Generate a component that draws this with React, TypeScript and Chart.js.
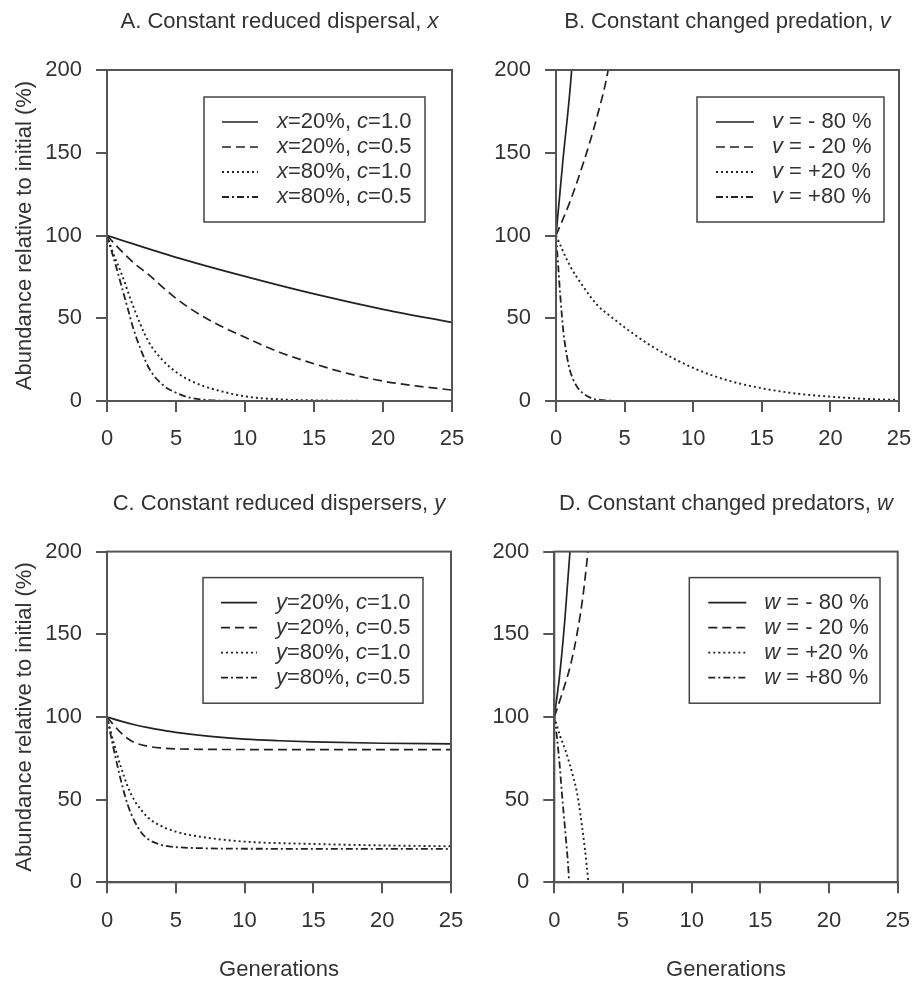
import React, { useEffect, useRef } from 'react';
import { Chart, registerables } from 'chart.js';

Chart.register(...registerables);

// ---------- tick labels ----------
const xTicks = [0, 5, 10, 15, 20, 25];
const yTicks = [0, 50, 100, 150, 200];
const yAxisTitle = 'Abundance relative to initial (%)';
const xAxisTitle = 'Generations';

// ---------- panel titles & legend labels (*...* = italic) ----------
const panelTitles = [
  'A. Constant reduced dispersal, *x*',
  'B. Constant changed predation, *v*',
  'C. Constant reduced dispersers, *y*',
  'D. Constant changed predators, *w*',
];
const legendA = ['*x*=20%, *c*=1.0', '*x*=20%, *c*=0.5', '*x*=80%, *c*=1.0', '*x*=80%, *c*=0.5'];
const legendB = ['*v* = - 80 %', '*v* = - 20 %', '*v* = +20 %', '*v* = +80 %'];
const legendC = ['*y*=20%, *c*=1.0', '*y*=20%, *c*=0.5', '*y*=80%, *c*=1.0', '*y*=80%, *c*=0.5'];
const legendD = ['*w* = - 80 %', '*w* = - 20 %', '*w* = +20 %', '*w* = +80 %'];

// ---------- Panel A ----------
const genA1 = [0, 5, 10, 15, 20, 25];
const valA1 = [100, 86.8, 75.3, 64.7, 55.4, 47.5];
const genA2 = [0, 1, 2, 3, 4, 5, 6, 7.5, 10, 12.5, 15, 17.5, 20, 22.5, 25];
const valA2 = [100, 91, 83, 76.5, 69, 62, 56, 48.5, 38.5, 29.5, 22.5, 16.5, 12, 9, 6.6];
const genA3 = [0, 0.5, 1, 2, 3, 4, 5, 6, 7, 8, 10, 12, 15, 20, 25];
const valA3 = [100, 88, 78, 55, 36, 25, 17.5, 12.5, 9, 6.5, 2.8, 1.2, 0.4, 0.05, 0];
const genA4 = [0, 0.35, 0.7, 1, 1.5, 1.9, 2.5, 3.1, 4, 5, 6, 7, 8, 10, 12];
const valA4 = [100, 90, 80, 71, 56, 44, 30, 19, 10, 5, 2, 0.8, 0.3, 0, 0];

// ---------- Panel B ----------
const genB1 = [0, 0.5, 1.14, 1.5];
const valB1 = [100, 145, 200, 250];
const genB2 = [0, 1, 2, 3, 3.8, 4.5];
const valB2 = [100, 120, 144, 172, 200, 240];
const genB3 = [0, 1, 2, 3, 4, 5, 7, 10, 12.5, 15, 17.5, 20, 22.5, 25];
const valB3 = [100, 82, 69, 58, 51, 44.5, 33, 20, 12.5, 7.7, 4.5, 2.6, 1.3, 0.6];
const genB4 = [0, 0.15, 0.3, 0.55, 0.8, 1, 1.5, 2, 2.5, 3, 4, 5];
const valB4 = [100, 83, 65, 41, 27, 19, 9, 4.5, 2, 0.8, 0.2, 0];

// ---------- Panel C ----------
const genC1 = [0, 1, 2, 3, 4, 5, 7.5, 10, 12.5, 15, 20, 25];
const valC1 = [100, 97.5, 95.3, 93.5, 92, 90.7, 88.3, 86.6, 85.6, 84.9, 84.1, 83.7];
const genC2 = [0, 0.5, 1, 1.5, 2, 3, 4, 5, 7, 10, 25];
const valC2 = [100, 95, 90.5, 87, 84.5, 82.2, 81.2, 80.7, 80.4, 80.3, 80.2];
const genC3 = [0, 0.5, 1, 1.5, 2, 3, 4, 5, 6.75, 10, 15, 20, 25];
const valC3 = [100, 84, 70, 58, 49.5, 39, 33.8, 30.6, 27.6, 24.6, 23.2, 22.3, 21.8];
const genC4 = [0, 0.5, 1, 1.5, 2, 2.5, 3, 4, 5, 7, 10, 25];
const valC4 = [100, 80, 62, 47, 37, 30, 26, 22.5, 21.3, 20.6, 20.3, 20.2];

// ---------- Panel D ----------
const genD1 = [0, 0.4, 0.78, 1.14, 1.4];
const valD1 = [100, 126, 160, 200, 235];
const genD2 = [0, 0.64, 1.2, 1.65, 2.1, 2.45, 2.8];
const valD2 = [100, 116, 132, 150, 174, 200, 228];
const genD3 = [0, 0.4, 0.8, 1.14, 1.4, 1.63, 1.8, 2, 2.2, 2.35, 2.48];
const valD3 = [100, 89, 80, 71, 63, 55, 47, 35, 22, 11, 0];
const genD4 = [0, 0.2, 0.4, 0.54, 0.7, 0.85, 1.0, 1.08];
const valD4 = [100, 87, 70, 55, 40, 26, 11, 0];

// ---------- styling ----------
const FONT = '"Liberation Sans", Arial, Helvetica, sans-serif';
const TEXT = '#333';
const INK = '#222';
const AXIS = '#555';
const DASHES: number[][] = [[], [9, 5], [2, 3], [7, 3, 2, 3]];
const WIDTHS = [1.7, 1.7, 1.9, 1.8];

type Rect = { left: number; top: number; width: number; height: number };
type Area = { left: number; top: number; right: number; bottom: number };
type Box = { left: number; right: number; top: number; height: number; sampleLeft: number; sampleLen: number; textLeft: number };

interface PanelSpec {
  title: string;
  labels: string[];
  gens: number[][];
  vals: number[][];
  canvas: Rect;
  area: Area;
  box: Box;
  yTitle: boolean;
  xTitle: boolean;
}

function drawRich(ctx: CanvasRenderingContext2D, text: string, x: number, y: number, align: 'left' | 'center', size: number, baseline: CanvasTextBaseline) {
  const parts = text.split('*');
  const segs = parts.map((t, i) => ({ t, italic: i % 2 === 1 })).filter((s) => s.t.length > 0);
  ctx.textBaseline = baseline;
  ctx.textAlign = 'left';
  let total = 0;
  const widths = segs.map((s) => {
    ctx.font = `${s.italic ? 'italic ' : ''}${size}px ${FONT}`;
    const w = ctx.measureText(s.t).width;
    total += w;
    return w;
  });
  let cx = align === 'center' ? x - total / 2 : x;
  segs.forEach((s, i) => {
    ctx.font = `${s.italic ? 'italic ' : ''}${size}px ${FONT}`;
    ctx.fillText(s.t, cx, y);
    cx += widths[i];
  });
}

const decorPlugin = {
  id: 'decor',
  afterDatasetsDraw(chart: any, _args: any, opts: any) {
    const ctx: CanvasRenderingContext2D = chart.ctx;
    const a = chart.chartArea;
    ctx.save();
    // frame
    ctx.strokeStyle = AXIS;
    ctx.lineWidth = 2;
    ctx.setLineDash([]);
    ctx.strokeRect(a.left, a.top, a.right - a.left, a.bottom - a.top);
    // title
    ctx.fillStyle = TEXT;
    drawRich(ctx, opts.title, (a.left + a.right) / 2, a.top - 42, 'center', 22, 'alphabetic');
    // legend
    const b: Box = opts.box;
    const bx = a.left + b.left;
    const by = a.top + b.top;
    const bw = a.right - b.right - bx;
    ctx.fillStyle = '#fff';
    ctx.fillRect(bx, by, bw, b.height);
    ctx.strokeStyle = '#444';
    ctx.lineWidth = 1.5;
    ctx.strokeRect(bx, by, bw, b.height);
    chart.data.datasets.forEach((ds: any, i: number) => {
      const cy = by + 25 + i * 25;
      ctx.beginPath();
      ctx.setLineDash(ds.borderDash || []);
      ctx.lineWidth = ds.borderWidth;
      ctx.strokeStyle = ds.borderColor;
      ctx.moveTo(bx + b.sampleLeft, cy);
      ctx.lineTo(bx + b.sampleLeft + b.sampleLen, cy);
      ctx.stroke();
      ctx.setLineDash([]);
      ctx.fillStyle = TEXT;
      drawRich(ctx, ds.label, bx + b.textLeft, cy, 'left', 22, 'middle');
    });
    ctx.restore();
  },
};

function Panel({ spec }: { spec: PanelSpec }) {
  const ref = useRef<HTMLCanvasElement>(null);
  useEffect(() => {
    const canvas = ref.current;
    if (!canvas) return;
    const { canvas: cv, area } = spec;
    const datasets = spec.labels.map((label, i) => ({
      label,
      data: spec.gens[i].map((g, j) => ({ x: g, y: spec.vals[i][j] })),
      borderColor: INK,
      backgroundColor: INK,
      borderWidth: WIDTHS[i],
      borderDash: DASHES[i],
      pointRadius: 0,
      cubicInterpolationMode: 'monotone' as const,
      fill: false,
    }));
    const chart = new Chart(canvas, {
      type: 'line',
      data: { datasets },
      options: {
        responsive: false,
        animation: false,
        events: [],
        layout: { padding: { left: 0, top: area.top, right: cv.width - area.right, bottom: 0 } },
        plugins: {
          legend: { display: false },
          title: { display: false },
          tooltip: { enabled: false },
          decor: { title: spec.title, box: spec.box },
        } as any,
        scales: {
          x: {
            type: 'linear',
            min: 0,
            max: 25,
            afterBuildTicks: (s: any) => {
              s.ticks = xTicks.map((v) => ({ value: v }));
            },
            afterFit: (s: any) => {
              s.height = cv.height - area.bottom;
              s.paddingLeft = 0;
              s.paddingRight = 0;
            },
            grid: { drawOnChartArea: false, drawTicks: true, tickLength: 11, color: AXIS, lineWidth: 2 },
            border: { display: true, color: AXIS, width: 2 },
            ticks: { color: TEXT, font: { family: FONT, size: 22 }, padding: 14, autoSkip: false, maxRotation: 0 },
            title: {
              display: spec.xTitle,
              text: xAxisTitle,
              color: TEXT,
              font: { family: FONT, size: 22 },
              padding: { top: 0, bottom: 0 },
            },
          },
          y: {
            type: 'linear',
            min: 0,
            max: 200,
            afterBuildTicks: (s: any) => {
              s.ticks = yTicks.map((v) => ({ value: v }));
            },
            afterFit: (s: any) => {
              s.width = area.left;
              s.paddingTop = 0;
              s.paddingBottom = 0;
            },
            grid: { drawOnChartArea: false, drawTicks: true, tickLength: 11, color: AXIS, lineWidth: 2 },
            border: { display: true, color: AXIS, width: 2 },
            ticks: { color: TEXT, font: { family: FONT, size: 22 }, padding: 14, autoSkip: false },
            title: {
              display: spec.yTitle,
              text: yAxisTitle,
              color: TEXT,
              font: { family: FONT, size: 22 },
              padding: { top: 12, bottom: 0 },
            },
          },
        },
      },
      plugins: [decorPlugin],
    } as any);
    return () => chart.destroy();
  }, [spec]);
  return (
    <canvas
      ref={ref}
      width={spec.canvas.width}
      height={spec.canvas.height}
      style={{ position: 'absolute', left: spec.canvas.left, top: spec.canvas.top, width: spec.canvas.width, height: spec.canvas.height }}
    />
  );
}

const specs: PanelSpec[] = [
  {
    title: panelTitles[0],
    labels: legendA,
    gens: [genA1, genA2, genA3, genA4],
    vals: [valA1, valA2, valA3, valA4],
    canvas: { left: 0, top: 0, width: 470, height: 470 },
    area: { left: 107, top: 70, right: 452, bottom: 401 },
    box: { left: 97, right: 27, top: 27, height: 125, sampleLeft: 18, sampleLen: 36, textLeft: 73 },
    yTitle: true,
    xTitle: false,
  },
  {
    title: panelTitles[1],
    labels: legendB,
    gens: [genB1, genB2, genB3, genB4],
    vals: [valB1, valB2, valB3, valB4],
    canvas: { left: 470, top: 0, width: 444, height: 470 },
    area: { left: 86, top: 70, right: 429, bottom: 401 },
    box: { left: 141, right: 15, top: 27, height: 125, sampleLeft: 19, sampleLen: 38, textLeft: 75 },
    yTitle: false,
    xTitle: false,
  },
  {
    title: panelTitles[2],
    labels: legendC,
    gens: [genC1, genC2, genC3, genC4],
    vals: [valC1, valC2, valC3, valC4],
    canvas: { left: 0, top: 470, width: 470, height: 513 },
    area: { left: 107, top: 81.6, right: 451, bottom: 412.3 },
    box: { left: 96, right: 28, top: 26, height: 125.6, sampleLeft: 18, sampleLen: 36, textLeft: 73 },
    yTitle: true,
    xTitle: true,
  },
  {
    title: panelTitles[3],
    labels: legendD,
    gens: [genD1, genD2, genD3, genD4],
    vals: [valD1, valD2, valD3, valD4],
    canvas: { left: 470, top: 470, width: 444, height: 513 },
    area: { left: 84.3, top: 81.6, right: 427.7, bottom: 412.3 },
    box: { left: 135, right: 17.7, top: 26, height: 125.6, sampleLeft: 19, sampleLen: 38, textLeft: 75 },
    yTitle: false,
    xTitle: true,
  },
];

export default function App() {
  return (
    <div style={{ position: 'absolute', left: 0, top: 0, width: 914, height: 983, background: '#fff', overflow: 'hidden' }}>
      {specs.map((s, i) => (
        <Panel key={i} spec={s} />
      ))}
    </div>
  );
}
